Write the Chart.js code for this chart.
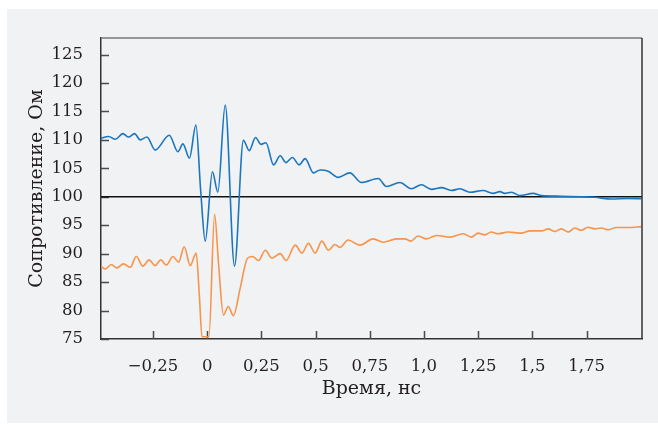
<!DOCTYPE html>
<html>
<head>
<meta charset="utf-8">
<script src="https://cdn.jsdelivr.net/npm/chart.js@4.4.1/dist/chart.umd.min.js"></script>
<style>
  html, body { margin: 0; padding: 0; background: #ffffff; }
  canvas { display: block; }
</style>
</head>
<body>
<canvas id="chart" width="658" height="424"></canvas>
<script>
// Time axis ticks (ns) and their printed labels
const xTickValues = [-0.25, 0, 0.25, 0.5, 0.75, 1.0, 1.25, 1.5, 1.75];
const xTickLabels = ["\u22120,25", "0", "0,25", "0,5", "0,75", "1,0", "1,25", "1,5", "1,75"];
const yTickValues = [75, 80, 85, 90, 95, 100, 105, 110, 115, 120, 125];

// Upper trace (blue)
const blueTime = [-0.490, -0.455, -0.424, -0.389, -0.363, -0.335, -0.309, -0.278, -0.240, -0.175,
  -0.135, -0.112, -0.082, -0.052, -0.030, -0.009, 0.024, 0.049, 0.083, 0.126,
  0.167, 0.194, 0.223, 0.248, 0.271, 0.306, 0.337, 0.363, 0.393, 0.424,
  0.452, 0.490, 0.521, 0.558, 0.604, 0.658, 0.712, 0.789, 0.827, 0.889,
  0.942, 0.988, 1.035, 1.081, 1.127, 1.166, 1.212, 1.273, 1.319, 1.350,
  1.373, 1.404, 1.442, 1.504, 1.542, 1.634, 1.726, 1.788, 1.865, 1.942, 2.003];
const blueOhm = [110.3, 110.6, 110.1, 111.1, 110.5, 111.1, 110.0, 110.5, 108.2, 110.8,
  107.9, 109.3, 106.8, 112.6, 101.0, 92.2, 104.4, 100.8, 116.1, 87.8,
  109.9, 108.1, 110.4, 109.2, 109.5, 105.6, 107.2, 106.0, 106.9, 105.6,
  106.7, 104.2, 104.7, 104.5, 103.4, 104.2, 102.5, 103.2, 101.8, 102.5,
  101.4, 102.1, 101.3, 101.6, 101.1, 101.4, 100.8, 101.1, 100.6, 100.9,
  100.6, 100.8, 100.2, 100.6, 100.2, 100.1, 100.0, 99.9, 99.6, 99.7, 99.65];

// Lower trace (orange)
const orangeTime = [-0.490, -0.470, -0.443, -0.417, -0.386, -0.355, -0.327, -0.297, -0.268, -0.240,
  -0.214, -0.189, -0.158, -0.132, -0.106, -0.078, -0.051, -0.036, -0.024, 0.008,
  0.034, 0.052, 0.075, 0.097, 0.121, 0.152, 0.186, 0.209, 0.237, 0.268,
  0.298, 0.337, 0.364, 0.406, 0.437, 0.467, 0.498, 0.529, 0.559, 0.589,
  0.612, 0.650, 0.704, 0.766, 0.812, 0.873, 0.912, 0.940, 0.973, 1.012,
  1.058, 1.119, 1.181, 1.219, 1.250, 1.281, 1.311, 1.342, 1.388, 1.450,
  1.488, 1.542, 1.573, 1.605, 1.634, 1.665, 1.696, 1.726, 1.757, 1.788,
  1.819, 1.850, 1.888, 1.942, 2.003];
const orangeOhm = [87.8, 87.3, 88.1, 87.5, 88.2, 87.6, 89.5, 87.8, 88.9, 87.9,
  88.9, 88.0, 89.5, 88.5, 91.2, 87.9, 90.1, 82.5, 75.4, 75.4,
  96.9, 88.4, 79.2, 80.7, 79.1, 83.9, 89.2, 89.5, 88.8, 90.6,
  89.2, 90.0, 88.8, 91.5, 90.1, 91.8, 90.1, 92.2, 90.6, 91.6,
  91.1, 92.4, 91.5, 92.6, 92.0, 92.6, 92.6, 92.2, 93.1, 92.6,
  93.2, 92.9, 93.5, 92.9, 93.6, 93.3, 93.8, 93.5, 93.8, 93.6,
  94.0, 94.0, 94.35, 93.9, 94.35, 93.8, 94.5, 94.1, 94.65, 94.35,
  94.5, 94.2, 94.6, 94.6, 94.75];

const refLevel = 100;

const textColor = "#231f20";
const tickFont = { family: "'DejaVu Serif', serif", size: 16.5 };
const titleFont = { family: "'DejaVu Serif', serif", size: 19 };

function toPoints(xs, ys) {
  return xs.map((x, i) => ({ x: x, y: ys[i] }));
}

// grey backing panel, frame, inward ticks and the 100 Ohm line
const framePlugin = {
  id: "frame",
  beforeDraw(chart) {
    const c = chart.ctx;
    c.save();
    c.fillStyle = "#ffffff";
    c.fillRect(0, 0, chart.width, chart.height);
    c.fillStyle = "#f1f2f4";
    c.fillRect(7, 9, chart.width - 7, chart.height - 10);
    c.restore();
  },
  beforeDatasetsDraw(chart) {
    const c = chart.ctx;
    const a = chart.chartArea;
    const x = chart.scales.x;
    const y = chart.scales.y;
    c.save();
    c.lineWidth = 1.5;
    c.strokeStyle = "#4a4a4a";
    c.beginPath();
    xTickValues.forEach(v => {
      const px = Math.round(x.getPixelForValue(v)) + 0.5;
      c.moveTo(px, a.bottom);
      c.lineTo(px, a.bottom - 8);
    });
    yTickValues.forEach(v => {
      const py = Math.round(y.getPixelForValue(v)) + 0.5;
      c.moveTo(a.left, py);
      c.lineTo(a.left + 8, py);
    });
    c.stroke();
    c.strokeStyle = "#111111";
    c.lineWidth = 1.5;
    const py = y.getPixelForValue(refLevel);
    c.beginPath();
    c.moveTo(a.left, py);
    c.lineTo(a.right, py);
    c.stroke();
    c.restore();
  },
  afterDraw(chart) {
    const c = chart.ctx;
    const a = chart.chartArea;
    c.save();
    c.lineWidth = 1.5;
    c.strokeStyle = "#777777";
    c.beginPath();
    c.moveTo(a.left, a.top);
    c.lineTo(a.right, a.top);
    c.stroke();
    c.strokeStyle = "#333333";
    c.beginPath();
    c.moveTo(a.right, a.top);
    c.lineTo(a.right, a.bottom);
    c.stroke();
    c.restore();
  }
};

new Chart(document.getElementById("chart"), {
  type: "line",
  data: {
    datasets: [
      {
        data: toPoints(orangeTime, orangeOhm),
        borderColor: "#f7944a",
        borderWidth: 1.6,
        pointRadius: 0,
        cubicInterpolationMode: "monotone",
        fill: false
      },
      {
        data: toPoints(blueTime, blueOhm),
        borderColor: "#1a76bf",
        borderWidth: 1.6,
        pointRadius: 0,
        cubicInterpolationMode: "monotone",
        fill: false
      }
    ]
  },
  options: {
    responsive: false,
    animation: false,
    events: [],
    layout: { padding: { top: 38, right: 16, left: 0, bottom: 0 } },
    plugins: { legend: { display: false }, tooltip: { enabled: false } },
    scales: {
      x: {
        type: "linear",
        min: -0.49,
        max: 2.006,
        grid: { display: false },
        border: { display: true, color: "#333333", width: 1.5 },
        afterBuildTicks: s => { s.ticks = xTickValues.map(v => ({ value: v })); },
        afterFit: s => { s.height = 85; },
        ticks: {
          padding: 10,
          color: textColor,
          font: tickFont,
          maxRotation: 0,
          autoSkip: false,
          callback: (v) => xTickLabels[xTickValues.indexOf(v)]
        },
        title: {
          display: true,
          text: "Время, нс",
          color: textColor,
          font: titleFont,
          padding: { top: 0, bottom: 24 }
        }
      },
      y: {
        min: 75,
        max: 127.9,
        grid: { display: false },
        border: { display: true, color: "#333333", width: 1.5 },
        afterBuildTicks: s => { s.ticks = yTickValues.map(v => ({ value: v })); },
        afterFit: s => { s.width = 101; },
        ticks: {
          padding: 10,
          color: textColor,
          font: tickFont,
          autoSkip: false
        },
        title: {
          display: true,
          text: "Сопротивление, Ом",
          color: textColor,
          font: titleFont,
          padding: { top: 26, bottom: 0 }
        }
      }
    }
  },
  plugins: [framePlugin]
});
</script>
</body>
</html>
